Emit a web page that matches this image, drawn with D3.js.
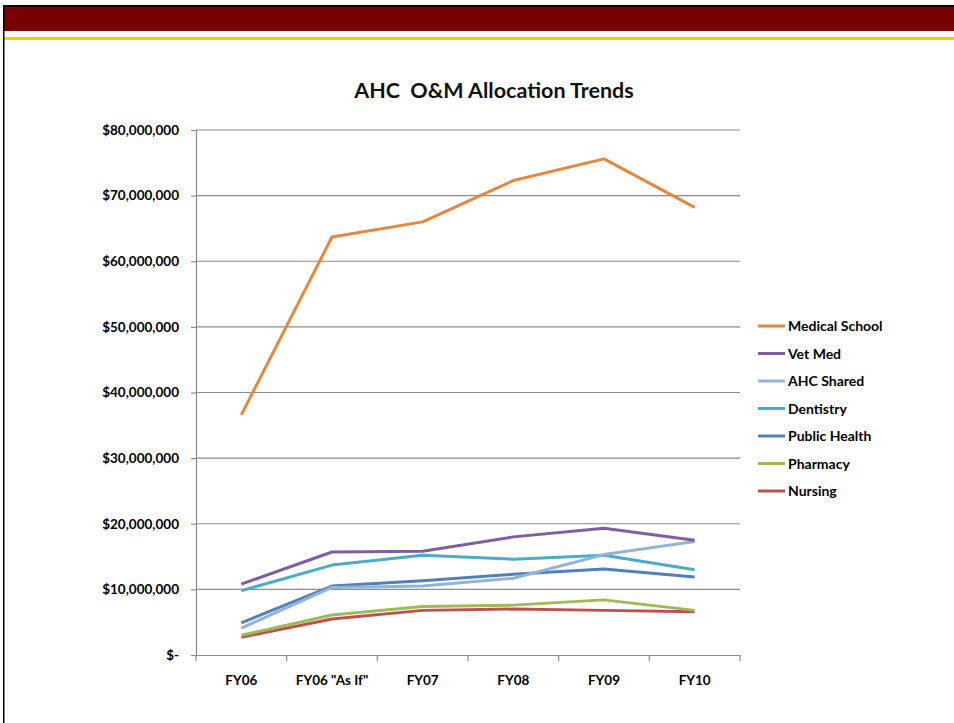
<!DOCTYPE html>
<html>
<head>
<meta charset="utf-8">
<script src="https://cdn.jsdelivr.net/npm/d3@7"></script>
<style>
  body { margin: 0; background: #fff; }
  svg { display: block; font-family: Lato, "Open Sans", sans-serif; }
</style>
</head>
<body>
<svg width="954" height="723"></svg>
<script>
// categories + series (values in dollars)
const categories = ['FY06', 'FY06 "As If"', 'FY07', 'FY08', 'FY09', 'FY10'];
const seriesNames = ['Medical School', 'Vet Med', 'AHC Shared', 'Dentistry', 'Public Health', 'Pharmacy', 'Nursing'];
const medicalSchool = [36.6e6, 63.7e6, 66.0e6, 72.3e6, 75.6e6, 68.2e6];
const vetMed       = [10.8e6, 15.7e6, 15.8e6, 18.0e6, 19.3e6, 17.5e6];
const ahcShared    = [4.1e6, 10.3e6, 10.5e6, 11.7e6, 15.3e6, 17.3e6];
const dentistry    = [9.8e6, 13.7e6, 15.2e6, 14.6e6, 15.2e6, 13.0e6];
const publicHealth = [4.9e6, 10.5e6, 11.3e6, 12.3e6, 13.1e6, 11.9e6];
const pharmacy     = [3.0e6, 6.1e6, 7.4e6, 7.6e6, 8.4e6, 6.8e6];
const nursing      = [2.7e6, 5.5e6, 6.8e6, 7.0e6, 6.8e6, 6.6e6];
const yTicks = [0, 10e6, 20e6, 30e6, 40e6, 50e6, 60e6, 70e6, 80e6];

const seriesValues = [medicalSchool, vetMed, ahcShared, dentistry, publicHealth, pharmacy, nursing];
const colors = ['#E3883D', '#7F5FA0', '#95B3D7', '#4BACC6', '#4F81BD', '#9BBB59', '#C0504D'];

const svg = d3.select('svg');

// slide decoration: black top rule, maroon band, gold line, left border
svg.append('rect').attr('x', 3).attr('y', 5).attr('width', 951).attr('height', 2).attr('fill', '#000');
svg.append('rect').attr('x', 3).attr('y', 7).attr('width', 951).attr('height', 24).attr('fill', '#7B0000');
svg.append('rect').attr('x', 3).attr('y', 37).attr('width', 951).attr('height', 3).attr('fill', '#FFCC00');
svg.append('rect').attr('x', 3).attr('y', 5).attr('width', 1.5).attr('height', 718).attr('fill', '#000');

// title
svg.append('text')
    .attr('x', 494).attr('y', 98)
    .attr('text-anchor', 'middle')
    .attr('font-size', 21.5).attr('font-weight', 'bold')
    .attr('fill', '#111')
    .attr('xml:space', 'preserve')
    .text('AHC  O&M Allocation Trends');

const plot = { left: 196, right: 740, top: 130, bottom: 655 };

const x = d3.scaleBand().domain(categories).range([plot.left, plot.right]);
const y = d3.scaleLinear().domain([0, 80e6]).range([plot.bottom, plot.top]);

// gridlines
svg.append('g')
    .selectAll('line')
    .data(yTicks.filter(d => d > 0))
    .enter()
    .append('line')
    .attr('x1', plot.left).attr('x2', plot.right)
    .attr('y1', d => y(d)).attr('y2', d => y(d))
    .attr('stroke', '#8c8c8c').attr('stroke-width', 1.2);

// y axis
const fmt = d => d === 0 ? '$-' : '$' + d3.format(',')(d);
const yAxis = svg.append('g')
    .attr('transform', `translate(${plot.left},0)`)
    .call(d3.axisLeft(y).tickValues(yTicks).tickFormat(fmt).tickSize(5).tickPadding(12));

// x axis, ticks on category boundaries
const xAxis = svg.append('g')
    .attr('transform', `translate(0,${plot.bottom})`)
    .call(d3.axisBottom(x).tickSize(0).tickPadding(20));
xAxis.selectAll('.bound')
    .data(d3.range(categories.length + 1))
    .enter()
    .append('line')
    .attr('x1', i => plot.left + i * x.step()).attr('x2', i => plot.left + i * x.step())
    .attr('y1', 0).attr('y2', 6)
    .attr('stroke', '#8c8c8c').attr('stroke-width', 1.2);

[yAxis, xAxis].forEach(ax => {
    ax.select('.domain').attr('stroke', '#8c8c8c').attr('stroke-width', 1.2);
    ax.selectAll('.tick line').attr('stroke', '#8c8c8c').attr('stroke-width', 1.2);
    ax.selectAll('text')
        .attr('font-family', 'Lato, sans-serif')
        .attr('font-size', 13.5).attr('font-weight', 'bold').attr('fill', '#000');
});

// series lines
const line = d3.line()
    .x((d, i) => x(categories[i]) + x.bandwidth() / 2)
    .y(d => y(d));

svg.append('g')
    .selectAll('path')
    .data(seriesValues.map((v, i) => ({ values: v, color: colors[i] })).reverse())
    .enter()
    .append('path')
    .attr('d', d => line(d.values))
    .attr('fill', 'none')
    .attr('stroke', d => d.color)
    .attr('stroke-width', 3)
    .attr('stroke-linejoin', 'round');

// legend
const legend = svg.append('g')
    .selectAll('g')
    .data(seriesNames)
    .enter()
    .append('g')
    .attr('transform', (d, i) => `translate(758,${326 + i * 27.5})`);

legend.append('line')
    .attr('x1', 0).attr('x2', 27)
    .attr('stroke', (d, i) => colors[i])
    .attr('stroke-width', 3);

legend.append('text')
    .attr('x', 30).attr('y', 5)
    .attr('font-size', 14).attr('font-weight', 'bold').attr('fill', '#000')
    .text(d => d);
</script>
</body>
</html>
